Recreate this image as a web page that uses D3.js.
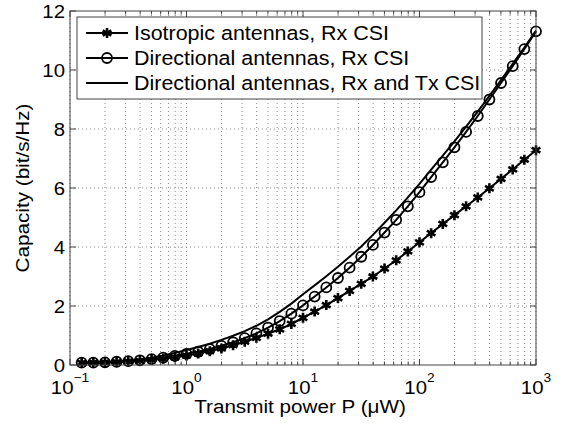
<!DOCTYPE html>
<html lang="en">
<head>
<meta charset="utf-8">
<title>Capacity vs transmit power</title>
<script src="https://d3js.org/d3.v7.min.js"></script>
<style>
  body { margin: 0; background: #fff; }
  svg { font-family: "Liberation Sans", Arial, Helvetica, sans-serif; }
  .grid line { stroke: #8a8a8a; stroke-width: 1; stroke-dasharray: 1,3; }
  .curve { fill: none; stroke: #000; stroke-width: 2; }
</style>
</head>
<body>
<svg id="chart" width="565" height="428"></svg>
<script>
// transmit power exponents, P = 10^e (uW)
const powerExp = [-0.9,-0.8,-0.7,-0.6,-0.5,-0.4,-0.3,-0.2,-0.1,0.0,
                  0.1,0.2,0.3,0.4,0.5,0.6,0.7,0.8,0.9,1.0,
                  1.1,1.2,1.3,1.4,1.5,1.6,1.7,1.8,1.9,2.0,
                  2.1,2.2,2.3,2.4,2.5,2.6,2.7,2.8,2.9,3.0];

const isoRx = [0.07,0.08,0.09,0.10,0.12,0.14,0.17,0.21,0.26,0.32,
               0.39,0.47,0.56,0.67,0.79,0.92,1.06,1.21,1.39,1.60,
               1.81,2.03,2.27,2.51,2.75,3.00,3.27,3.55,3.85,4.16,
               4.47,4.78,5.08,5.38,5.68,5.99,6.31,6.63,6.96,7.28];

const dirRx = [0.08,0.08,0.09,0.11,0.13,0.16,0.20,0.25,0.31,0.38,
               0.45,0.54,0.65,0.77,0.91,1.07,1.27,1.49,1.74,2.02,
               2.32,2.63,2.95,3.30,3.67,4.07,4.49,4.92,5.38,5.86,
               6.37,6.87,7.38,7.90,8.44,9.00,9.56,10.13,10.71,11.31];

const dirRxTx = [0.08,0.09,0.10,0.12,0.15,0.19,0.25,0.32,0.41,0.51,
                 0.61,0.72,0.85,0.99,1.15,1.33,1.55,1.80,2.08,2.40,
                 2.70,3.01,3.33,3.67,4.02,4.41,4.82,5.24,5.68,6.14,
                 6.62,7.10,7.58,8.08,8.59,9.12,9.66,10.21,10.76,11.34];

const seriesNames = ["Isotropic antennas, Rx CSI",
                     "Directional antennas, Rx CSI",
                     "Directional antennas, Rx and Tx CSI"];

const xDecades = [0.1, 1, 10, 100, 1000];
const xDecadeLabels = ["\u22121", "0", "1", "2", "3"];
const yTicks = [0, 2, 4, 6, 8, 10, 12];

const svg = d3.select("#chart");
const plot = {left: 70, right: 536, top: 11, bottom: 365};
const stretch = "scale(1.1,1)";   // the reference lettering is a bit wider than Arial

const x = d3.scaleLog().domain([0.1, 1000]).range([plot.left, plot.right]);
const y = d3.scaleLinear().domain([0, 12]).range([plot.bottom, plot.top]);

const P = powerExp.map(e => Math.pow(10, e));

// grid
const grid = svg.append("g").attr("class", "grid");
grid.selectAll(".vx").data(x.ticks()).join("line")
    .attr("x1", d => x(d)).attr("x2", d => x(d))
    .attr("y1", plot.top).attr("y2", plot.bottom);
grid.selectAll(".hy").data(yTicks.slice(1, -1)).join("line")
    .attr("x1", plot.left).attr("x2", plot.right)
    .attr("y1", d => y(d)).attr("y2", d => y(d));

// curves
const line = d3.line().x((d, i) => x(P[i])).y(d => y(d));
[isoRx, dirRx, dirRxTx].forEach(s => {
  svg.append("path").attr("class", "curve").datum(s).attr("d", line);
});

const asterisk = d3.symbol().type(d3.symbolAsterisk).size(70);

svg.append("g").selectAll("path").data(isoRx).join("path")
   .attr("transform", (d, i) => `translate(${x(P[i])},${y(d)})`)
   .attr("d", asterisk)
   .attr("fill", "none").attr("stroke", "#000").attr("stroke-width", 2.6);

svg.append("g").selectAll("circle").data(dirRx).join("circle")
   .attr("cx", (d, i) => x(P[i])).attr("cy", d => y(d)).attr("r", 5)
   .attr("fill", "none").attr("stroke", "#000").attr("stroke-width", 1.8);

// frame and ticks
const axisCol = "#444";
svg.append("rect").attr("x", plot.left).attr("y", plot.top)
   .attr("width", plot.right - plot.left).attr("height", plot.bottom - plot.top)
   .attr("fill", "none").attr("stroke", axisCol).attr("stroke-width", 1);

const ticks = svg.append("g").attr("stroke", axisCol).attr("stroke-width", 1);
x.ticks().forEach(t => {
  const major = xDecades.includes(t);
  const len = major ? 6 : 3.5;
  ticks.append("line").attr("x1", x(t)).attr("x2", x(t)).attr("y1", plot.bottom).attr("y2", plot.bottom - len);
  ticks.append("line").attr("x1", x(t)).attr("x2", x(t)).attr("y1", plot.top).attr("y2", plot.top + len);
});
yTicks.forEach(t => {
  ticks.append("line").attr("x1", plot.left).attr("x2", plot.left + 6).attr("y1", y(t)).attr("y2", y(t));
  ticks.append("line").attr("x1", plot.right).attr("x2", plot.right - 6).attr("y1", y(t)).attr("y2", y(t));
});

// tick labels
svg.append("g").selectAll("text").data(yTicks).join("text")
   .attr("transform", d => `translate(${plot.left - 5},${y(d)}) ${stretch}`)
   .attr("dy", "0.36em")
   .attr("text-anchor", "end").attr("font-size", 18.5).text(d => d);

const xl = svg.append("g").selectAll("text").data(xDecades).join("text")
   .attr("transform", d => `translate(${x(d)},394) ${stretch}`)
   .attr("text-anchor", "middle").attr("font-size", 18.5);
xl.append("tspan").text("10");
xl.append("tspan").attr("font-size", 12.5).attr("dy", -12).text((d, i) => xDecadeLabels[i]);

// axis titles
svg.append("text").attr("transform", `translate(300,413) ${stretch}`)
   .attr("text-anchor", "middle")
   .attr("font-size", 18.8).text("Transmit power P (\u03bcW)");
svg.append("text")
   .attr("transform", `translate(29,${(plot.top + plot.bottom) / 2}) rotate(-90) ${stretch}`)
   .attr("text-anchor", "middle").attr("font-size", 18.8).text("Capacity (bit/s/Hz)");

// legend
const lg = svg.append("g");
lg.append("rect").attr("x", 77).attr("y", 17).attr("width", 405).attr("height", 82)
  .attr("fill", "#fff").attr("stroke", axisCol).attr("stroke-width", 1);
const rowY = [33, 58, 83];
seriesNames.forEach((name, i) => {
  lg.append("line").attr("x1", 86).attr("x2", 128).attr("y1", rowY[i]).attr("y2", rowY[i])
    .attr("stroke", "#000").attr("stroke-width", 2);
  if (i === 0) {
    lg.append("path").attr("transform", `translate(107,${rowY[i]})`).attr("d", asterisk)
      .attr("fill", "none").attr("stroke", "#000").attr("stroke-width", 2.6);
  } else if (i === 1) {
    lg.append("circle").attr("cx", 107).attr("cy", rowY[i]).attr("r", 5)
      .attr("fill", "none").attr("stroke", "#000").attr("stroke-width", 1.8);
  }
  lg.append("text").attr("transform", `translate(134,${rowY[i]}) ${stretch}`)
    .attr("dy", "0.36em")
    .attr("font-size", 19.5).text(name);
});
</script>
</body>
</html>
